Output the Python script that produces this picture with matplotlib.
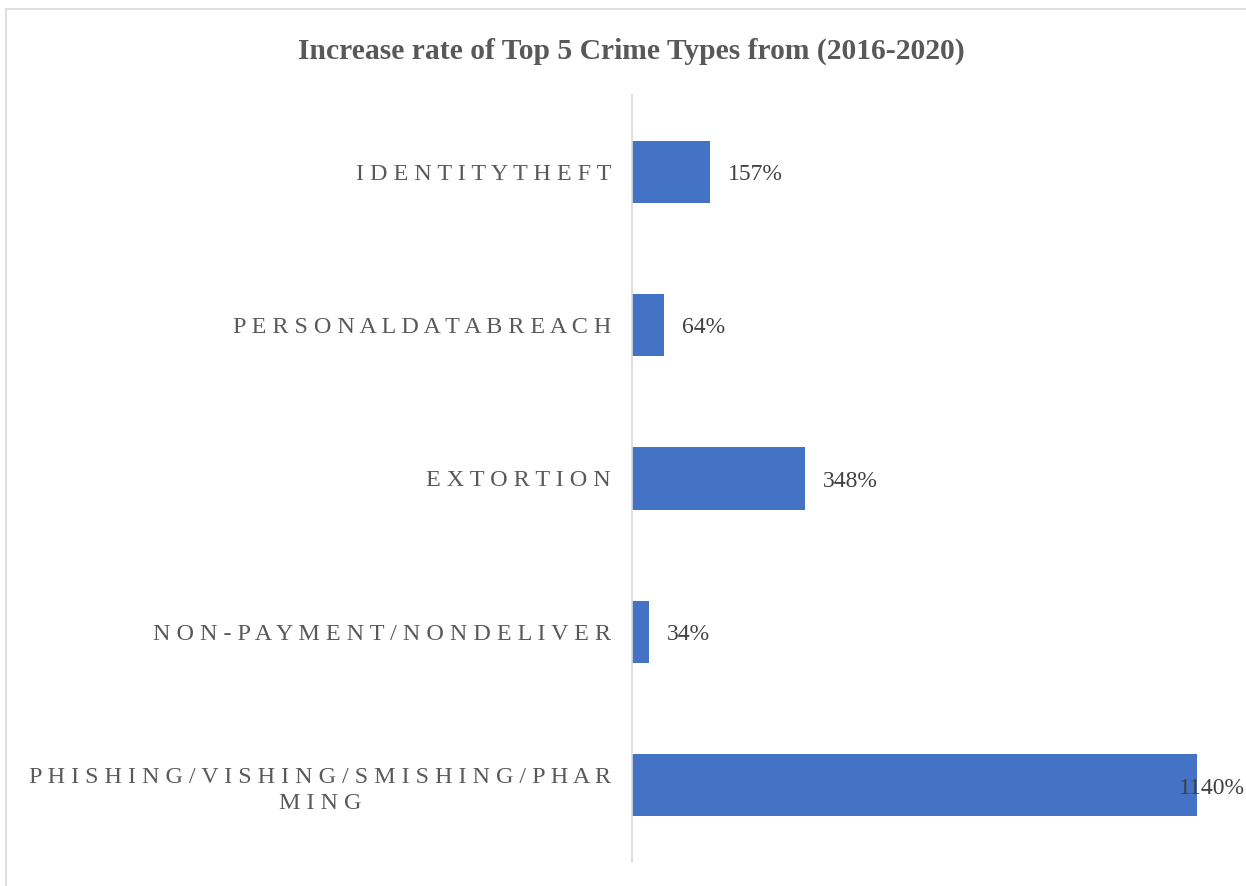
import matplotlib.pyplot as plt
from matplotlib.patches import Rectangle

# crime categories, bottom to top as they appear on the y axis
crimes = ['PHISHING/VISHING/SMISHING/PHAR\nMING', 'NON-PAYMENT/NONDELIVER',
          'EXTORTION', 'PERSONALDATABREACH', 'IDENTITYTHEFT']
increase_pct = [1140, 34, 348, 64, 157]

BAR_COLOR = '#4472C4'
TEXT_GRAY = '#595959'
LABEL_GRAY = '#404040'


def spaced(text):
    # Excel-style letter spacing, keeps line breaks
    return '\n'.join(' '.join(line) for line in text.split('\n'))


plt.rcParams['font.family'] = ['Liberation Serif', 'DejaVu Serif']

fig = plt.figure(figsize=(12.46, 8.86), dpi=100)
fig.patches.append(Rectangle((6 / 1246, -0.1), 1.2, 1.1 - 9 / 886, transform=fig.transFigure,
                             fill=False, edgecolor='#D9D9D9', linewidth=1.2))

ax = fig.add_axes([632 / 1246, 24 / 886, 595 / 1246, 767 / 886])
ypos = range(len(crimes))
ax.barh(ypos, increase_pct, height=0.405, color=BAR_COLOR)
ax.set_xlim(0, 1200)
ax.set_ylim(-0.5, len(crimes) - 0.5)

ax.set_yticks(list(ypos))
ax.set_yticklabels([spaced(c) for c in crimes], fontsize=17.4, color=TEXT_GRAY,
                   multialignment='center', linespacing=1.35)
ax.tick_params(axis='y', length=0, pad=15)
ax.set_xticks([])
for side in ['top', 'right', 'bottom']:
    ax.spines[side].set_visible(False)
ax.spines['left'].set_color('#D9D9D9')
ax.spines['left'].set_linewidth(1.2)

for y, v in zip(ypos, increase_pct):
    if v > 1100:
        # too long to fit beside the bar, pull the label back over the bar end
        ax.annotate(f'{v}%', xy=(v, y), xytext=(34, -2), textcoords='offset points',
                    ha='right', va='center', fontsize=17, color=LABEL_GRAY,
                    annotation_clip=False)
    else:
        ax.annotate(f'{v}%', xy=(v, y), xytext=(13, -2), textcoords='offset points',
                    ha='left', va='center', fontsize=17, color=LABEL_GRAY)

fig.text(631 / 1246, 1 - 51 / 886, 'Increase rate of Top 5 Crime Types from (2016-2020)',
         ha='center', va='center', fontsize=21.3, fontweight='bold', color=TEXT_GRAY)

fig.savefig('out.png', dpi=100, facecolor='white')
